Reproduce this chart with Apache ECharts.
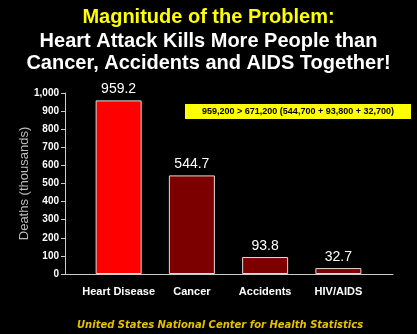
<!DOCTYPE html>
<html><head><meta charset="utf-8">
<script src="https://cdn.jsdelivr.net/npm/echarts@6/dist/echarts.min.js"></script>
<style>html,body{margin:0;padding:0;background:#000;}#c{width:417px;height:334px;}</style>
</head><body><div id="c"></div>
<script>
const categories = ['Heart Disease', 'Cancer', 'Accidents', 'HIV/AIDS'];
const deaths = [959.2, 544.7, 93.8, 32.7];
const yTicks = [0, 100, 200, 300, 400, 500, 600, 700, 800, 900, 1000];
const titleLines = ['Magnitude of the Problem:', 'Heart Attack Kills More People than', 'Cancer, Accidents and AIDS Together!'];
const noteText = '959,200 > 671,200 (544,700 + 93,800 + 32,700)';
const sourceText = 'United States National Center for Health Statistics';
const barColors = ['#ff0000', '#7d0000', '#7d0000', '#7d0000'];

const chart = echarts.init(document.getElementById('c'));
chart.setOption({
  backgroundColor: '#000',
  animation: false,
  title: [
    {text: titleLines[0], left: 'center', top: 2, textStyle: {color: '#ffff00', fontFamily: 'Liberation Sans', fontWeight: 'bold', fontSize: 20}},
    {text: titleLines[1] + '\n' + titleLines[2], left: 'center', top: 25, textStyle: {color: '#fff', fontFamily: 'Liberation Sans', fontWeight: 'bold', fontSize: 20, lineHeight: 22}},
    {text: sourceText, left: 72, top: 315, textStyle: {color: '#e8c000', fontFamily: 'DejaVu Sans', fontStyle: 'italic', fontWeight: 'bold', fontSize: 10}}
  ],
  grid: [
    {left: 65, top: 93, width: 328, height: 181, containLabel: false},
    {left: 82, top: 93, width: 293, height: 181, containLabel: false}
  ],
  xAxis: [
    {gridIndex: 0, type: 'value', min: 0, max: 1, axisLine: {show: true, lineStyle: {color: '#ccc', width: 1}}, axisTick: {show: false}, axisLabel: {show: false}, splitLine: {show: false}},
    {gridIndex: 1, type: 'category', data: categories, axisLine: {show: false}, axisTick: {show: false},
     axisLabel: {interval: 0, color: '#fff', fontFamily: 'Liberation Sans Narrow, Liberation Sans', fontWeight: 'bold', fontSize: 11, margin: 12}}
  ],
  yAxis: [
    {gridIndex: 0, type: 'value', min: 0, max: 1000, interval: 100,
     name: 'Deaths (thousands)', nameLocation: 'middle', nameGap: 34, nameMoveOverlap: false,
     nameTextStyle: {color: '#bbb', fontFamily: 'Liberation Sans', fontSize: 13},
     axisLine: {show: true, lineStyle: {color: '#ccc'}}, axisTick: {show: true, length: 4, lineStyle: {color: '#ccc'}},
     axisLabel: {color: '#fff', fontFamily: 'Liberation Sans Narrow, Liberation Sans', fontWeight: 'bold', fontSize: 10, margin: 6,
       formatter: v => yTicks.includes(v) ? v.toLocaleString('en-US') : ''},
     splitLine: {show: false}},
    {gridIndex: 1, type: 'value', min: 0, max: 1000, show: false}
  ],
  series: [{
    type: 'bar', xAxisIndex: 1, yAxisIndex: 1,
    data: deaths.map((v, i) => ({value: v, itemStyle: {color: barColors[i]}})),
    barWidth: 46,
    itemStyle: {borderColor: '#ddd', borderWidth: 1},
    label: {show: true, position: 'top', distance: 4, color: '#fff', fontFamily: 'Liberation Sans', fontSize: 14, formatter: p => p.value.toFixed(1)}
  }],
  graphic: [{
    type: 'group', left: 185, top: 104,
    children: [
      {type: 'rect', shape: {x: 0, y: 0, width: 226, height: 15}, style: {fill: '#ffff00'}},
      {type: 'text', x: 113, y: 7.5, style: {text: noteText, fill: '#000', font: 'bold 9px "Liberation Sans"', textAlign: 'center', textVerticalAlign: 'middle'}}
    ]
  }]
});
</script></body></html>
